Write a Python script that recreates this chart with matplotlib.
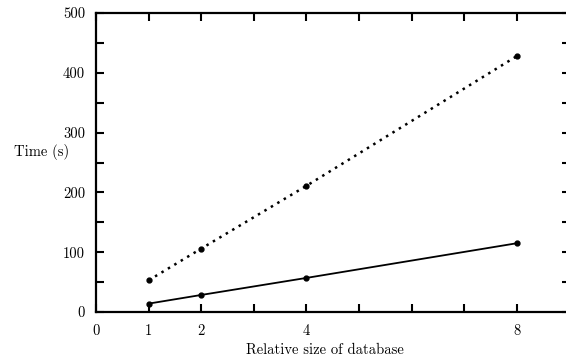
import matplotlib
matplotlib.use("Agg")
import matplotlib.pyplot as plt

# relative database size vs run time
sizes = [1, 2, 4, 8]
time_dotted = [53, 106, 211, 428]
time_solid = [14, 28.5, 57, 115]

x_ticks = list(range(0, 10))
x_tick_labels = ["0", "1", "2", "", "4", "", "", "", "8", ""]
y_ticks = list(range(0, 501, 50))
y_tick_labels = [str(v) if v % 100 == 0 else "" for v in y_ticks]

plt.rcParams['font.family'] = 'serif'
plt.rcParams['font.serif'] = ['cmr10']
plt.rcParams['axes.formatter.use_mathtext'] = True

fig = plt.figure(figsize=(5.66, 3.58), dpi=100)
ax = fig.add_axes([96 / 566, 46 / 358, 473.5 / 566, 299 / 358])

ax.plot(sizes, time_dotted, color='k', lw=1.8, linestyle=(0, (1, 2.0)),
        marker='o', markersize=3.5, dash_capstyle='butt')
ax.plot(sizes, time_solid, color='k', lw=1.3, marker='o', markersize=3.5)

ax.set_xlim(0, 9)
ax.set_ylim(0, 500)
ax.set_xticks(x_ticks)
ax.set_xticklabels(x_tick_labels)
ax.set_yticks(y_ticks)
ax.set_yticklabels(y_tick_labels)

ax.tick_params(direction='in', length=6, width=1.5, top=True, right=True,
               labelsize=10.5)
ax.tick_params(axis='x', pad=9)
ax.tick_params(axis='y', pad=8)
for s in ax.spines.values():
    s.set_linewidth(1.6)

ax.set_xlabel("Relative size of database", fontsize=10.5)
ax.xaxis.set_label_coords(0.484, -0.105)
ax.set_ylabel("Time (s)", fontsize=10.5, rotation=0)
ax.yaxis.set_label_coords(-0.115, 0.51)

fig.savefig("out.png", dpi=100)
